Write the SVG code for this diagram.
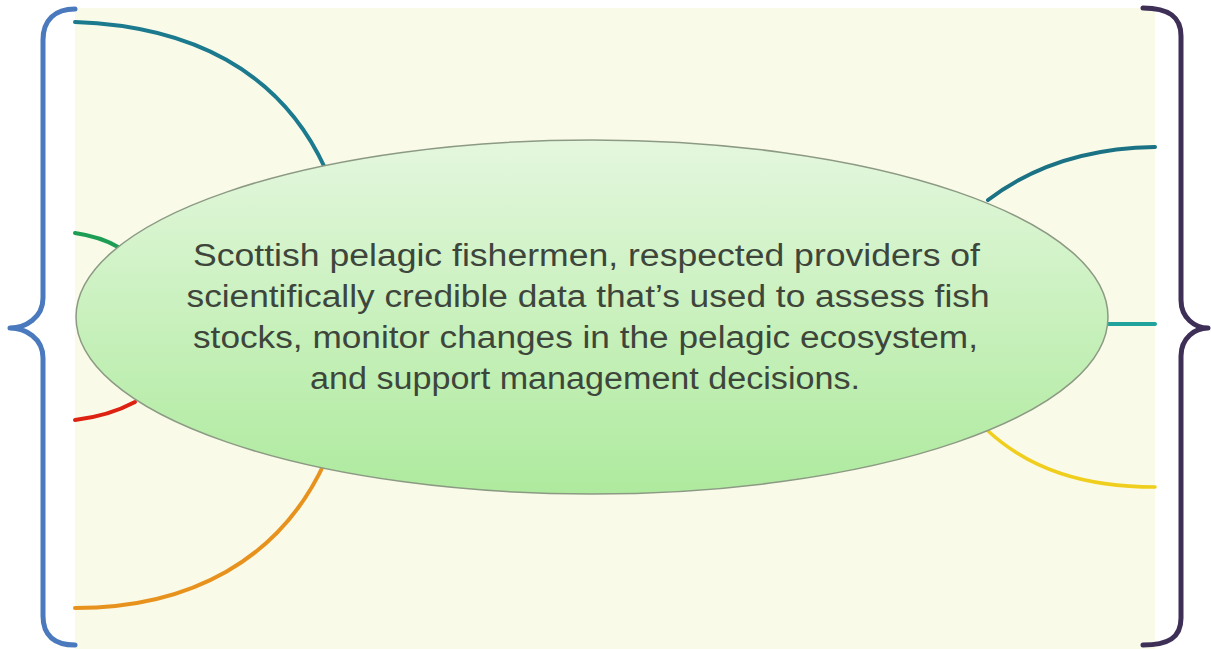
<svg xmlns="http://www.w3.org/2000/svg" width="1211" height="649" viewBox="0 0 1211 649">
<defs>
<linearGradient id="eg" x1="0" y1="0" x2="0" y2="1">
<stop offset="0" stop-color="#E4F7DE"/>
<stop offset="0.55" stop-color="#C6F0BA"/>
<stop offset="1" stop-color="#AEEA9E"/>
</linearGradient>
<style>
.br{fill:none;stroke-width:5;stroke-linecap:round;stroke-linejoin:round}
.con{fill:none;stroke-linecap:round}
.t{font-family:"Liberation Sans",Arial,sans-serif;font-size:31px;fill:#3E463C;text-anchor:middle}
</style>
</defs>
<rect x="0" y="0" width="1211" height="649" fill="#FFFFFF"/>
<rect x="75" y="8" width="1080" height="641" fill="#FAFAE9"/>
<g id="connectors">
<path class="con" d="M75,22 C190,26 280,70 325,168" stroke="#1C7A8E" stroke-width="4"/>
<path class="con" d="M75,233 C95,236 108,241 118,247" stroke="#1E9E55" stroke-width="4"/>
<path class="con" d="M75,420 C100,417 120,410 135,402" stroke="#DD2211" stroke-width="4"/>
<path class="con" d="M325,462 C280,560 190,608 75,608" stroke="#E8921E" stroke-width="4"/>
<path class="con" d="M988,200 C1030,168 1085,148 1155,147" stroke="#1B7284" stroke-width="4"/>
<path class="con" d="M1108,324 L1155,324" stroke="#1FA39C" stroke-width="4"/>
<path class="con" d="M987,430 C1030,470 1085,487 1155,487" stroke="#F0CE1E" stroke-width="3.5"/>
</g>
<g id="central">
<ellipse cx="592" cy="317" rx="516" ry="177" fill="url(#eg)" stroke="#8C9A84" stroke-width="1.5"/>
<text class="t" x="586.5" y="266" textLength="787" lengthAdjust="spacingAndGlyphs">Scottish pelagic fishermen, respected providers of</text>
<text class="t" x="588" y="307" textLength="803" lengthAdjust="spacingAndGlyphs">scientifically credible data that’s used to assess fish</text>
<text class="t" x="585.5" y="348" textLength="785" lengthAdjust="spacingAndGlyphs">stocks, monitor changes in the pelagic ecosystem,</text>
<text class="t" x="585" y="389" textLength="550" lengthAdjust="spacingAndGlyphs">and support management decisions.</text>
</g>
<g id="left-brace">
<path class="br" stroke="#4A7ABD" d="M75,9 C55,9 43,20 43,40 L43,298 C43,318 25,328 10,328 C25,328 43,338 43,358 L43,616 C43,636 55,645 75,645"/>
</g>
<g id="right-brace">
<path class="br" stroke="#3E2F57" d="M1143,8 C1168,8 1181,16 1181,36 L1181,300 C1181,318 1195,328 1208,328 C1195,328 1181,338 1181,356 L1181,618 C1181,638 1168,645 1143,645"/>
</g>
</svg>
